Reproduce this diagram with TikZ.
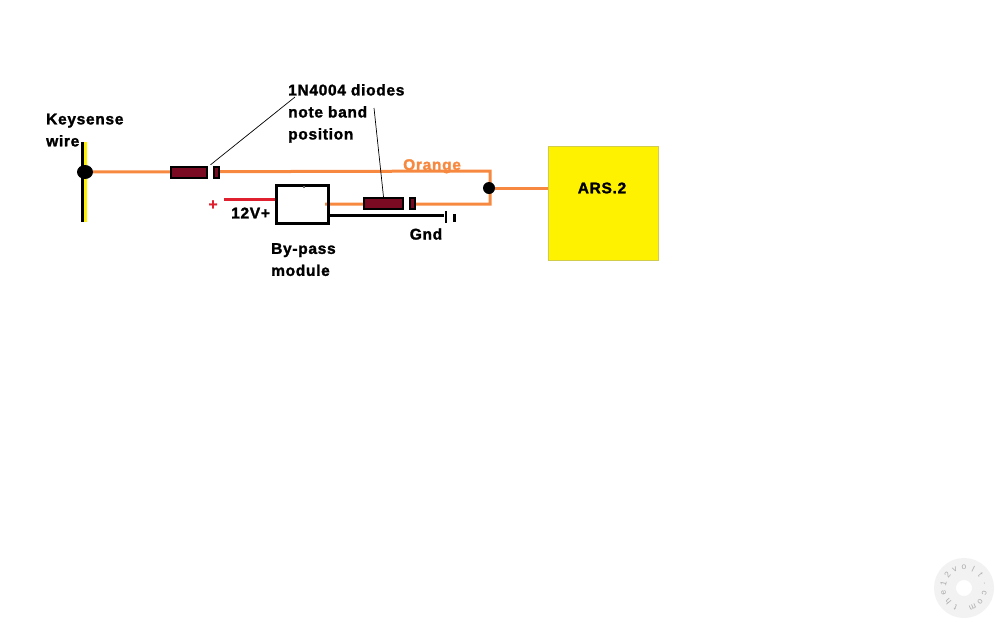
\documentclass[tikz,border=0pt]{standalone}
\usepackage{fontspec}
\setmainfont{Liberation Sans}[LetterSpace=4.5,BoldFeatures={FakeBold=1.6}]
\usetikzlibrary{backgrounds,shapes.geometric}
\definecolor{wireorange}{HTML}{F6893F}
\definecolor{wirered}{HTML}{E0202F}
\definecolor{diodered}{HTML}{7A0A22}
\definecolor{arsyellow}{HTML}{FFF200}
\tikzset{
    %Define style for labels
    lbl/.style={
           inner sep=0pt,
           font=\fontsize{15.5}{22}\selectfont\bfseries,
           text=black,
           align=left},
    %Define style for diode parts
    diodebody/.style={
           rectangle,
           draw=black, line width=2.2pt,
           fill=diodered,
           inner sep=0pt,
           minimum height=11pt},
    dot/.style={
           ellipse,
           fill=black,
           inner sep=0pt},
    module/.style={
           rectangle,
           draw=black, line width=3pt,
           inner sep=0pt,
           minimum width=52pt,
           minimum height=38pt},
    arsbox/.style={
           rectangle,
           draw=black!25!arsyellow!70!white, line width=.8pt,
           fill=arsyellow,
           inner sep=0pt,
           minimum width=110pt,
           minimum height=114pt},
    wmarkchar/.style={
           inner sep=0pt,
           font=\fontsize{8.5}{9}\selectfont,
           text=black!32},
    % Define wire styles
    orangewire/.style={draw=wireorange, line width=3pt},
    blackwire/.style={draw=black, line width=3pt},
    redwire/.style={draw=wirered, line width=3pt},
    leader/.style={draw=black, line width=.7pt}
}
\begin{document}
\begin{tikzpicture}[x=1pt,y=-1pt]
\useasboundingbox (0,0) rectangle (1000,625);

 %nodes
\node[dot, minimum width=16pt, minimum height=14pt](keydot) at (85,172){};
\node[dot, minimum width=12pt, minimum height=12pt](join) at (489,188){};
\coordinate (keytop) at (82,142);
\coordinate (keybot) at (82,222);
\coordinate (yeltop) at (85,142);
\coordinate (yelbot) at (85,222);
\coordinate (topend) at (490,171);
\coordinate (botend) at (490,204);
\coordinate (modout) at (325,204);
\coordinate (redin) at (224,199);
\coordinate (gndin) at (329,215.5);
\coordinate (noteA) at (295,97);
\coordinate (noteB) at (374,108);

\node[diodebody, minimum width=36pt](d1) at (189,172.5){};
\node[diodebody, minimum width=4.5pt](d1band) at (216.5,172.5){};
\node[fill=white, inner sep=0pt, minimum width=5pt, minimum height=15pt](d1gap) at (210.5,172.5){};
\node[diodebody, minimum width=39pt](d2) at (383.5,203.5){};
\node[diodebody, minimum width=4.5pt](d2band) at (412.5,203.5){};
\node[fill=white, inner sep=0pt, minimum width=5pt, minimum height=15pt](d2gap) at (406.5,203.5){};

\node[module](bypass) at (302,204){};
\node[fill=black!60, inner sep=0pt, minimum size=1.5pt](modspot) at (304,187){};
\node[arsbox](ars) at (603,203){};
\node[lbl](arslabel) at (602,188){ARS.2};

\node[fill=black, inner sep=0pt, minimum width=2.8pt, minimum height=12pt](gndbar) at (446,216.5){};
\node[fill=black, inner sep=0pt, minimum width=2.6pt, minimum height=8pt](gndtick) at (454.5,217.5){};

 %labels
\node[lbl, anchor=north west](keylabel) at (46,113.5){Keysense\\wire};
\node[lbl, anchor=north west](notelabel) at (288,84){1N4004 diodes\\note band\\position};
\node[lbl, anchor=north west, text=wireorange](orangelabel) at (403,159){Orange};
\node[lbl, text=wirered](plus) at (213,205){+};
\node[lbl, anchor=west](vlabel) at (231,213){12V+};
\node[lbl](gndlabel) at (426,234){Gnd};
\node[lbl, anchor=north west](modlabel) at (271,243){By-pass\\module};

 %watermark
\node[circle, draw=black!5, line width=22pt, inner sep=0pt, minimum size=38pt](wmark) at (964,588){};
\foreach \ch [count=\i] in {t,h,e,1,2,v,o,l,t,.,c,o,m}
    \node[wmarkchar, rotate={270-(88+\i*26)}] at ([shift={({88+\i*26}:21)}]wmark.center) {\ch};

 %wires
\begin{pgfonlayer}{background}
\path[draw=arsyellow, line width=3pt] (yeltop) -- (yelbot);
\path[blackwire] (keytop) -- (keybot);
\path[orangewire] (keydot) -- (topend) -- (botend) -- (modout);
\path[orangewire] (join) -- (join -| ars.west);
\path[redwire] (redin) -- (redin -| bypass.west);
\path[blackwire] (gndin) -- (gndin -| gndbar.west);
\path[leader] (d1gap.north) -- (noteA);
\path[leader] (noteB) -- (d2.north);
\end{pgfonlayer}
\end{tikzpicture}
\end{document}
